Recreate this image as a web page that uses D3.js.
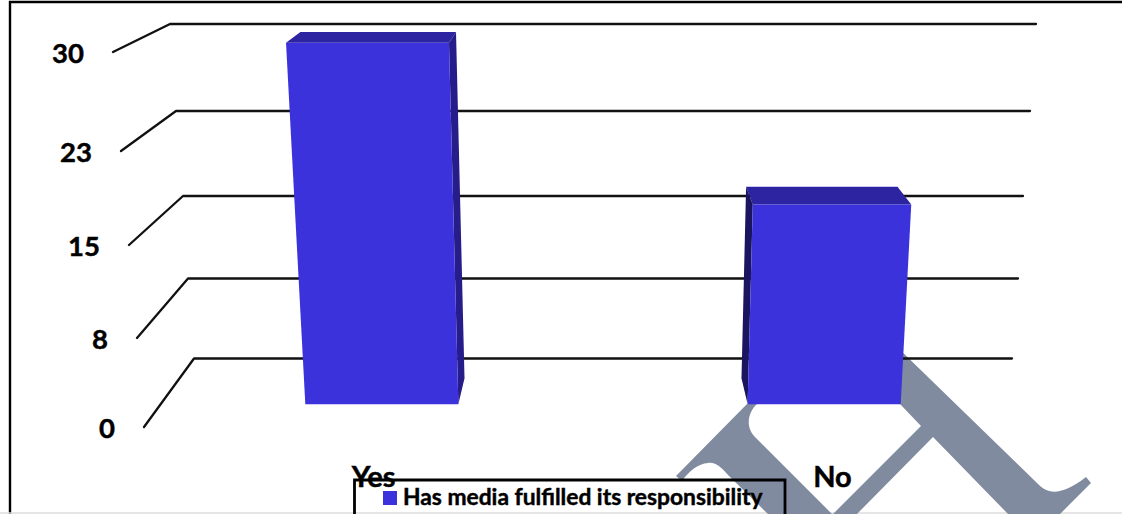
<!DOCTYPE html>
<html>
<head>
<meta charset="utf-8">
<script src="https://cdn.jsdelivr.net/npm/d3@7"></script>
<style>
  html, body { margin: 0; padding: 0; background: #fff; overflow: hidden; }
  svg { display: block; }
  text { font-family: Lato, "Open Sans", sans-serif; font-weight: 700; fill: #000; stroke: #000; stroke-width: 0.45px; }
</style>
</head>
<body>
<svg id="chart" width="1122" height="514"></svg>
<script>
// Chart content
const categories = ["Yes", "No"];
const values = [30, 17];
const tickValues = [0, 7.5, 15, 22.5, 30];
const tickLabels = ["0", "8", "15", "23", "30"];
const seriesName = "Has media fulfilled its responsibility";

const W = 1122, H = 514;
const svg = d3.select("#chart");

// 3D projection of the plot box: a value and a depth (0 front, 1 back) map to a
// screen height; the wall's half-width widens slightly towards the top.
const centerX = 603;
const frontY = d3.scaleLinear().domain(tickValues).range([427, 338, 245, 151, 52]);
const backY = d3.scaleLinear().domain(tickValues).range([358.5, 278.5, 196, 111, 24]);
const frontHalf = d3.scaleLinear().domain(tickValues).range([459, 466, 474, 482, 490]);
const backHalf = d3.scaleLinear().domain(tickValues).range([409, 415, 420, 427, 433]);
const depthMix = d3.scaleLinear().domain([0, 1]);

function project(u, value, depth) {
  const y = depthMix.range([frontY(value), backY(value)])(depth);
  const half = depthMix.range([frontHalf(value), backHalf(value)])(depth);
  return [centerX + u * half, y];
}

// Category positions across the floor, in units of the half-width
const xBand = d3.scalePoint().domain(categories).range([-0.5, 0.5]);
const barHalfWidth = 0.173;
const barDepth = [1 / 3, 0.71];

const polyLine = d3.line().curve(d3.curveLinearClosed);
const openLine = d3.line();

// Outer frame
svg.append("path").attr("d", openLine([[10, H], [10, 2], [W, 2]]))
  .attr("fill", "none").attr("stroke", "#000").attr("stroke-width", 2.4);
svg.append("line").attr("x1", 0).attr("x2", W).attr("y1", 513).attr("y2", 513)
  .attr("stroke", "#dcdcdc").attr("stroke-width", 1.5);

// Grey page watermark behind the plot
const watermark = svg.append("g").attr("fill", "#808ba0");
watermark.append("path").attr("d",
  "M676,476 L747,404 L757,404 C748,412 745,427 755,437 L832,514 L768,514 L728,475 " +
  "C720,466 715,462 708,463 C698,464 690,470 682,481 Z");
watermark.append("path").attr("d",
  "M895,345 L1037,483 C1047,494 1060,497 1086,477 L1091,483 L1060,514 L1008,514 " +
  "L933,437 L857,514 L833,514 L921,426 L900,404 L860,404 Z");

// Gridlines along the back wall, with the receding stroke on the left wall
const grid = svg.append("g").attr("fill", "none").attr("stroke", "#111").attr("stroke-width", 2.3);
grid.selectAll("path").data(tickValues).join("path")
  .attr("stroke-linecap", "round")
  .attr("stroke-linejoin", "round")
  .attr("d", v => openLine([project(-1, v, 0), project(-1, v, 1), project(1, v, 1)]));

// Value labels
svg.append("g").selectAll("text").data(tickValues).join("text")
  .attr("x", v => project(-1, v, 0)[0] - 29)
  .attr("y", v => frontY(v) + 11)
  .attr("text-anchor", "end")
  .attr("font-size", 27.5)
  .text((v, i) => tickLabels[i]);

// Bars: top face, inner side face, then the front face
const bars = svg.append("g").selectAll("g")
  .data(categories.map((c, i) => ({ c, v: values[i] })))
  .join("g");

bars.append("path").attr("fill", "#2d24a2").attr("d", d => {
  const a = xBand(d.c) - barHalfWidth, b = xBand(d.c) + barHalfWidth;
  return polyLine([project(a, d.v, barDepth[0]), project(a, d.v, barDepth[1]),
                   project(b, d.v, barDepth[1]), project(b, d.v, barDepth[0])]);
});
bars.append("path")
  .attr("fill", d => xBand(d.c) < 0 ? "#261d8a" : "#1b1560")
  .attr("d", d => {
    const edge = xBand(d.c) + (xBand(d.c) < 0 ? barHalfWidth : -barHalfWidth);
    return polyLine([project(edge, d.v, barDepth[0]), project(edge, d.v, barDepth[1]),
                     project(edge, 0, barDepth[1]), project(edge, 0, barDepth[0])]);
  });
bars.append("path").attr("fill", "#3c32dc").attr("d", d => {
  const a = xBand(d.c) - barHalfWidth, b = xBand(d.c) + barHalfWidth;
  return polyLine([project(a, d.v, barDepth[0]), project(b, d.v, barDepth[0]),
                   project(b, 0, barDepth[0]), project(a, 0, barDepth[0])]);
});

// Legend box runs off the bottom edge
const legend = svg.append("g");
legend.append("path").attr("d", openLine([[354.5, H], [354.5, 480], [785, 480], [785, H]]))
  .attr("fill", "none").attr("stroke", "#000").attr("stroke-width", 2.8);
legend.append("rect").attr("x", 383).attr("y", 491).attr("width", 14).attr("height", 14)
  .attr("fill", "#3c32dc");
legend.append("text").attr("x", 403).attr("y", 505).attr("font-size", 22.8).text(seriesName);

// Category labels
svg.append("g").selectAll("text").data(categories).join("text")
  .attr("x", c => centerX + xBand(c) * frontHalf(0))
  .attr("y", 487)
  .attr("text-anchor", "middle")
  .attr("font-size", 29)
  .text(c => c);
</script>
</body>
</html>
